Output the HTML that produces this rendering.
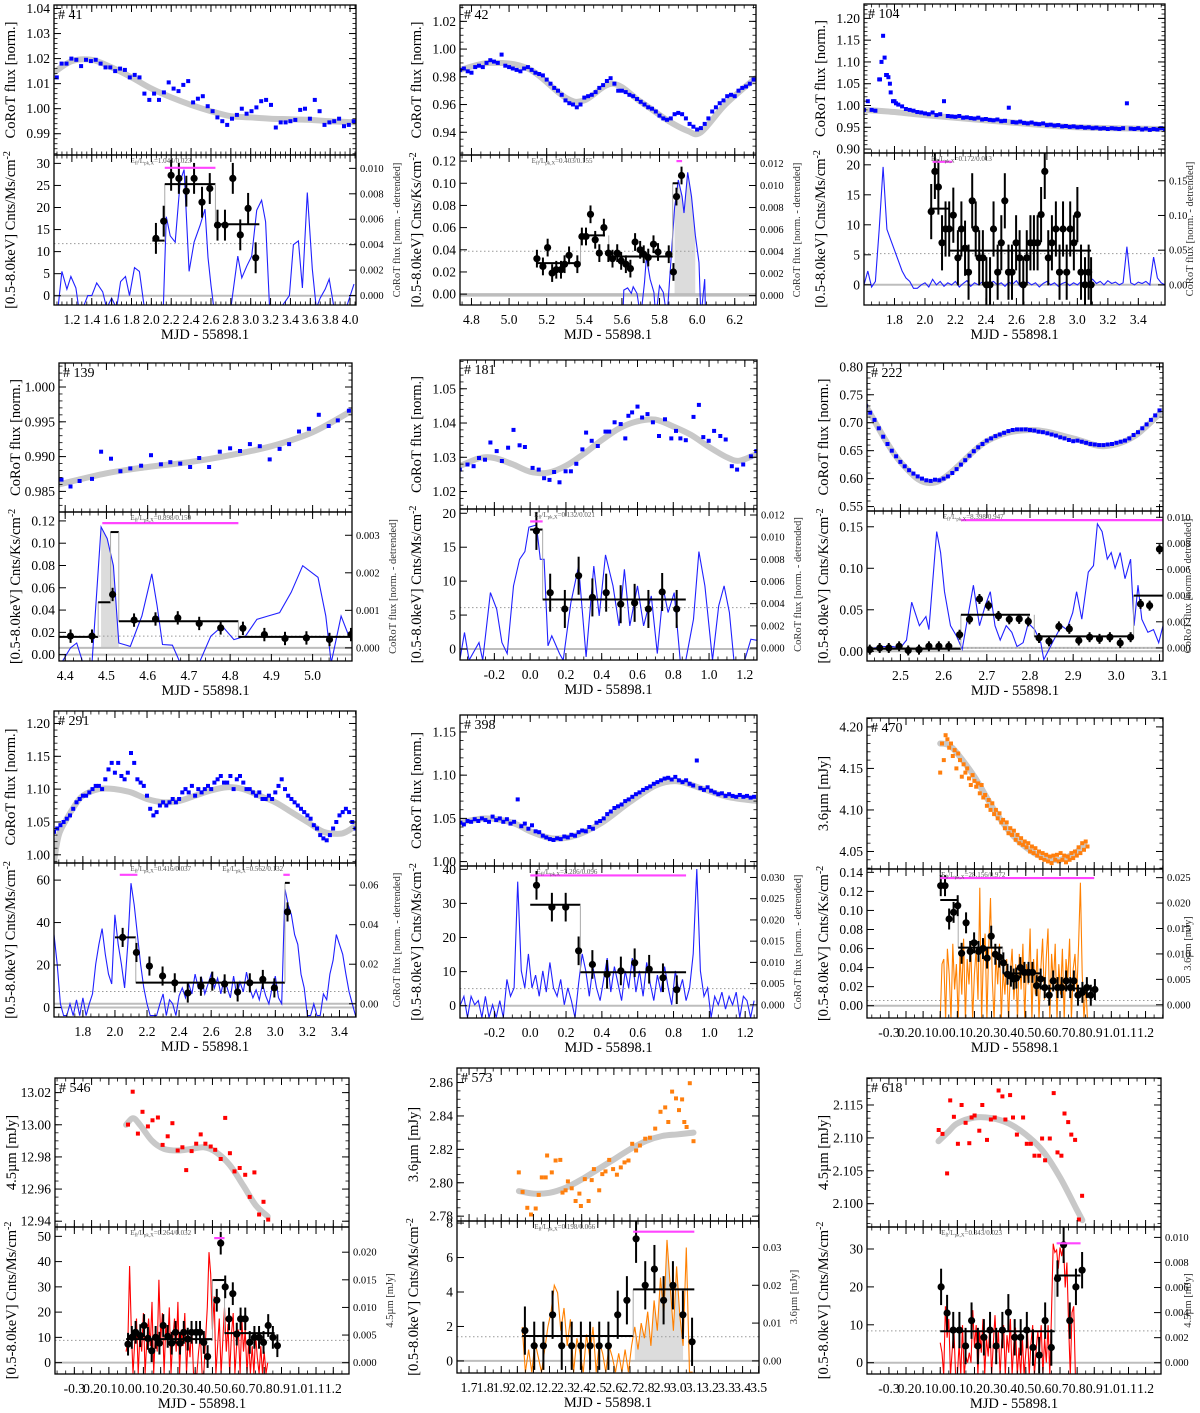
<!DOCTYPE html>
<html><head><meta charset="utf-8"><title>CoRoT / X-ray flare light curves</title>
<style>
html,body{margin:0;padding:0;background:#fff;}
svg{display:block;font-family:"Liberation Serif",serif;}
</style></head>
<body>
<svg id="fig" xmlns="http://www.w3.org/2000/svg" width="1200" height="1413" viewBox="0 0 1200 1413"></svg>
<script>
// ===== DATA =====
// #41
const d41_cy=[1.0125,1.018,1.018,1.020,1.0195,1.017,1.0195,1.019,1.0195,1.018,1.0165,1.0165,1.015,1.016,1.0155,1.0125,1.0135,1.0125,1.006,1.0035,1.006,1.0035,1.0065,1.0105,1.008,1.007,1.0095,1.011,1.0025,1.004,1.005,1.001,0.999,0.9965,0.995,0.9935,0.996,0.9975,1.0,0.998,0.999,1.0005,1.003,1.0035,1.0015,0.9925,0.9945,0.9945,0.995,0.9955,0.9995,1.0,0.996,1.0035,0.999,0.9935,0.9945,0.995,0.996,0.993,0.9935,0.995];
const d41_fx=[1.02,1.2,1.4,1.6,1.8,2.0,2.2,2.4,2.6,2.8,3.0,3.2,3.4,3.6,3.8,4.06];
const d41_fy=[1.0145,1.019,1.0195,1.0165,1.0125,1.008,1.0045,1.0015,0.999,0.997,0.9965,0.996,0.9958,0.9955,0.995,0.9945];
const d41_lx=[1.06,1.10,1.15,1.19,1.24,1.27,1.31,1.36,1.40,1.45,1.51,1.55,1.60,1.65,1.69,1.74,1.78,1.83,1.88,1.93,1.97,2.02,2.07,2.12,2.15,2.19,2.24,2.29,2.33,2.38,2.43,2.49,2.54,2.57,2.60,2.63,2.7,2.8,2.87,2.91,2.96,3.01,3.06,3.11,3.15,3.19,3.3,3.39,3.43,3.48,3.52,3.57,3.62,3.66,3.70,3.75,3.79,3.84,3.9,3.96,4.04];
const d41_ly=[-0.001,0.0019,0.0005,0.0015,0.0006,-0.001,-0.001,0,0,0.001,0.0003,-0.001,-0.0002,-0.001,0.0011,0.0015,0,0.0022,0.0019,-0.001,-0.001,-0.001,-0.001,-0.001,0.0062,0.0047,0.0042,0.009,0.0099,0.0019,0.0042,0.0055,0.0068,0.003,0.0008,-0.001,-0.001,-0.001,0.0031,0.0014,0.0023,0.0031,0.0067,0.0075,0.0058,-0.001,-0.001,0,0.004,0.0043,0.0006,0.0081,0.0021,-0.001,-0.0002,0.0005,0.0013,-0.001,-0.001,-0.001,0.0009];
const d41_xx=[2.046,2.124,2.199,2.277,2.352,2.43,2.51,2.588,2.666,2.741,2.82,2.895,2.974,3.05];
const d41_xy=[13.0,16.9,27.3,26.6,23.7,26.6,21.2,24.3,16.0,16.0,26.6,13.8,19.8,8.6];
const d41_bins=[[2.01,2.135,12.5],[2.135,2.645,25.3],[2.645,3.087,16.2]];
// #42
const d42_cy=[0.985,0.986,0.984,0.983,0.987,0.988,0.987,0.990,0.992,0.991,0.990,0.996,0.988,0.987,0.986,0.985,0.984,0.986,0.987,0.985,0.983,0.982,0.981,0.978,0.975,0.972,0.970,0.967,0.963,0.961,0.960,0.958,0.960,0.965,0.966,0.967,0.969,0.972,0.974,0.977,0.979,0.975,0.970,0.970,0.969,0.967,0.966,0.964,0.962,0.960,0.958,0.957,0.955,0.952,0.950,0.949,0.950,0.953,0.954,0.953,0.950,0.946,0.944,0.942,0.943,0.946,0.950,0.955,0.958,0.961,0.963,0.966,0.967,0.966,0.970,0.972,0.973,0.975,0.978];
const d42_fx=[4.74,4.9,5.1,5.3,5.4,5.55,5.7,5.85,5.95,6.02,6.15,6.31];
const d42_fy=[0.985,0.99,0.986,0.965,0.963,0.975,0.962,0.948,0.941,0.940,0.96,0.979];
const d42_lx=[5.605,5.61,5.63,5.65,5.66,5.68,5.70,5.72,5.73,5.75,5.77,5.78,5.80,5.82,5.84,5.86,5.88,5.90,5.92,5.93,5.95,5.97,5.99,6.01,6.02,6.04,6.045];
const d42_ly=[-0.002,0.0005,0.0007,0.0002,0.0008,0.0002,-0.002,0.0012,0.0035,0.0015,0.0003,-0.002,0.0009,0.0003,-0.002,0.003,0.008,0.0105,0.009,0.0075,0.0112,0.009,0.0055,0.003,-0.002,0.0015,-0.002];
const d42_xx=[5.148,5.18,5.205,5.229,5.251,5.276,5.295,5.319,5.363,5.387,5.409,5.433,5.458,5.48,5.504,5.528,5.55,5.575,5.596,5.621,5.645,5.67,5.697,5.716,5.74,5.768,5.792,5.849,5.874,5.89,5.917];
const d42_xy=[0.032,0.025,0.042,0.019,0.022,0.022,0.027,0.035,0.027,0.052,0.052,0.072,0.049,0.037,0.060,0.037,0.032,0.037,0.030,0.027,0.023,0.047,0.040,0.036,0.033,0.045,0.038,0.036,0.020,0.088,0.107];
const d42_bins=[[5.15,5.37,0.028],[5.38,5.51,0.053],[5.53,5.87,0.034],[5.87,5.90,0.10]];
// #104
const d104_cy=[0.990,1.010,0.990,0.988,1.060,1.160,1.070,1.030,1.010,1.002,0.998,0.992,0.990,0.988,0.985,0.984,0.982,0.980,0.984,0.978,0.980,1.010,0.976,0.975,0.974,0.976,0.972,0.973,0.971,0.970,0.972,0.968,0.969,0.967,0.966,0.968,0.964,0.965,0.995,0.962,0.961,0.963,0.960,0.959,0.961,0.958,0.957,0.959,0.955,0.956,0.954,0.955,0.952,0.953,0.951,0.952,0.950,0.951,0.949,0.950,0.948,0.949,0.947,0.948,0.946,0.948,0.947,0.946,0.948,1.005,0.947,0.946,0.948,0.945,0.947,0.944,0.946,0.945,0.948,0.946];
const d104_ex=[1.705,1.715,1.735,1.745,1.76,1.77,1.79,1.81];
const d104_ey=[1.06,1.10,1.11,1.07,1.065,1.05,1.01,1.005];
const d104_fx=[1.6,1.8,2.0,2.5,3.0,3.575];
const d104_fy=[0.99,0.985,0.978,0.963,0.95,0.946];
const d104_ly=[0.00,0.02,-0.003,0.005,0.08,0.17,0.08,0.065,0.05,0.035,0.02,0.01,0.005,-0.005,-0.005,0.0,0.003,-0.003,0.008,0.0,0.005,-0.002,0.003,0.0,0.005,-0.003,0.002,0.006,-0.002,0.003,0.0,0.004,-0.003,0.002,0.005,0.0,0.003,-0.002,0.004,0.001,0.006,-0.002,0.002,0.004,0.0,0.003,-0.003,0.002,0.005,0.0,0.003,-0.002,0.002,0.004,-0.001,0.003,0.0,0.005,-0.002,0.004,0.008,0.002,0.005,0.0,0.006,0.002,0.004,0.0,0.003,0.055,0.003,0.0,0.004,0.002,0.005,0.0,0.04,0.01,0.003,0.0];
const d104_xx=[2.041,2.065,2.088,2.112,2.135,2.159,2.186,2.216,2.239,2.263,2.286,2.31,2.333,2.356,2.38,2.403,2.427,2.45,2.477,2.501,2.524,2.548,2.571,2.598,2.621,2.645,2.668,2.692,2.715,2.739,2.762,2.786,2.809,2.833,2.859,2.883,2.906,2.93,2.953,2.977,3.0,3.024,3.05,3.074,3.09];
const d104_xy=[12.2,18.9,16.3,7.0,9.3,9.3,11.6,4.5,9.3,6.1,2.1,14.0,9.3,4.5,4.5,0,0,9.3,2.1,7.0,14.0,2.1,2.1,7.0,4.5,0,4.5,7.0,7.0,7.0,11.7,18.9,4.5,7.0,9.3,2.1,9.3,2.1,9.3,7.0,11.7,2.1,0,2.1,0];
const d104_bins=[[2.03,2.16,12.7],[2.16,3.09,5.7]];
// #139
const d139_cx=[4.391,4.413,4.435,4.465,4.487,4.511,4.534,4.558,4.584,4.608,4.632,4.655,4.679,4.703,4.725,4.749,4.775,4.8,4.824,4.848,4.872,4.896,4.92,4.943,4.967,4.991,5.015,5.039,5.061,5.088];
const d139_cy=[0.9867,0.9857,0.9865,0.9868,0.9907,0.9897,0.9879,0.9883,0.9887,0.9902,0.9889,0.9892,0.989,0.9885,0.9898,0.9885,0.9907,0.9912,0.9908,0.9918,0.9915,0.9896,0.9911,0.9918,0.9936,0.994,0.996,0.9944,0.9952,0.9966];
const d139_fx=[4.385,4.5,4.6,4.7,4.8,4.9,5.0,5.095];
const d139_fy=[0.986,0.9876,0.9885,0.9892,0.9902,0.9915,0.9935,0.9966];
const d139_lx=[4.391,4.413,4.428,4.443,4.465,4.487,4.502,4.517,4.53,4.558,4.586,4.61,4.623,4.636,4.66,4.679,4.707,4.725,4.753,4.781,4.809,4.837,4.865,4.892,4.92,4.948,4.976,5.013,5.032,5.045,5.069,5.088];
const d139_ly=[-0.0004,0,0.00013,-0.0004,-0.0004,0.00322,0.00291,0.00219,0.00013,0.00004,0.00085,0.00197,0.00112,0.00009,0.00007,-0.0004,-0.0004,-0.0004,0.00031,0.00058,0.00022,0.00031,0.00076,0.00085,0.00094,0.00148,0.00219,0.00188,0.00085,-0.0004,0.00085,0.00031];
const d139_xx=[4.413,4.465,4.515,4.567,4.619,4.673,4.725,4.777,4.831,4.883,4.933,4.985,5.041,5.093];
const d139_xy=[0.0166,0.0166,0.054,0.031,0.032,0.033,0.028,0.024,0.0236,0.018,0.0145,0.015,0.0136,0.018];
const d139_bins=[[4.385,4.48,0.016],[4.48,4.51,0.047],[4.51,4.53,0.11],[4.53,4.82,0.030],[4.82,5.095,0.016]];
// #181
const d181_cx=[-0.393,-0.35,-0.316,-0.286,-0.252,-0.222,-0.187,-0.158,-0.123,-0.093,-0.059,-0.029,0.014,0.048,0.078,0.108,0.134,0.164,0.198,0.228,0.258,0.292,0.313,0.344,0.378,0.421,0.442,0.472,0.506,0.532,0.549,0.57,0.6,0.626,0.656,0.686,0.72,0.754,0.789,0.815,0.84,0.87,0.913,0.943,0.968,0.998,1.028,1.063,1.093,1.127,1.157,1.191,1.234,1.264];
const d181_cy=[1.0264,1.0279,1.0274,1.0298,1.0293,1.0343,1.0318,1.0289,1.0328,1.038,1.0335,1.033,1.0269,1.0264,1.0239,1.0234,1.0257,1.0227,1.0259,1.0259,1.0281,1.0323,1.0372,1.0348,1.0333,1.0375,1.0375,1.0402,1.0397,1.0355,1.0421,1.0431,1.0448,1.0416,1.0426,1.0402,1.0362,1.0411,1.0355,1.0377,1.0355,1.035,1.0418,1.0453,1.0359,1.0348,1.0377,1.0362,1.0352,1.0274,1.0264,1.0279,1.0303,1.0318];
const d181_fx=[-0.39,-0.28,-0.2,-0.1,0.0,0.1,0.2,0.3,0.4,0.5,0.6,0.7,0.8,0.9,1.0,1.1,1.17,1.268];
const d181_fy=[1.0275,1.0298,1.0298,1.028,1.0258,1.0255,1.0275,1.031,1.035,1.0385,1.0405,1.041,1.039,1.0365,1.033,1.03,1.029,1.031];
const d181_lx=[-0.393,-0.367,-0.341,-0.286,-0.265,-0.222,-0.187,-0.158,-0.128,-0.093,-0.059,-0.029,-0.007,0.035,0.057,0.078,0.1,0.121,0.164,0.185,0.228,0.271,0.313,0.356,0.386,0.421,0.463,0.497,0.527,0.557,0.6,0.634,0.677,0.711,0.745,0.771,0.805,0.839,0.87,0.913,0.943,0.977,1.019,1.054,1.084,1.114,1.139,1.199,1.234,1.268];
const d181_ly=[-0.0011,0.0014,-0.0011,0.0005,-0.0011,0.005,0.0035,0.0005,-0.0005,0.0056,0.008,0.0087,0.0109,0.0111,0.008,0.008,0.0002,0.0011,-0.0005,-0.0011,0.0041,0.0074,-0.0008,0.0074,0.0029,0.0084,0.0056,0.002,0.0071,0.002,0.0056,0.002,0.0047,-0.0005,0.0053,0.0032,0.005,-0.0011,-0.0011,0.0026,0.0087,0.0056,-0.0011,0.0038,0.0056,0.0032,-0.0011,-0.0011,0.0008,0.0007];
const d181_xx=[0.035,0.112,0.194,0.271,0.348,0.425,0.506,0.584,0.661,0.738,0.819];
const d181_xy=[17.4,8.3,5.9,10.8,7.6,8.3,6.6,6.8,5.9,8.4,5.9];
const d181_bins=[[0.0,0.07,17.6],[0.07,0.87,7.3]];
// #222
const d222_cy=[0.730,0.718,0.705,0.690,0.675,0.662,0.650,0.640,0.630,0.622,0.615,0.609,0.604,0.600,0.597,0.596,0.598,0.597,0.600,0.604,0.610,0.617,0.625,0.633,0.641,0.649,0.656,0.662,0.668,0.672,0.676,0.679,0.682,0.685,0.687,0.688,0.688,0.688,0.687,0.686,0.684,0.683,0.681,0.679,0.677,0.674,0.672,0.669,0.667,0.668,0.666,0.664,0.662,0.661,0.660,0.660,0.661,0.662,0.664,0.666,0.668,0.672,0.678,0.683,0.690,0.697,0.705,0.713,0.722];
const d222_fx=[2.42,2.5,2.58,2.7,2.8,2.9,2.97,3.04,3.108];
const d222_fy=[0.73,0.63,0.593,0.667,0.687,0.672,0.658,0.675,0.722];
const d222_lx=[2.429,2.455,2.482,2.5,2.514,2.526,2.544,2.559,2.566,2.584,2.593,2.602,2.616,2.63,2.643,2.655,2.669,2.683,2.696,2.708,2.719,2.731,2.745,2.758,2.77,2.784,2.796,2.811,2.825,2.832,2.855,2.873,2.885,2.899,2.908,2.92,2.935,2.947,2.956,2.967,2.979,2.988,2.997,3.009,3.02,3.033,3.041,3.05,3.059,3.073,3.086,3.098,3.108];
const d222_ly=[-0.0001,0.0001,0.0001,0,0.0006,0.0035,0.0017,0.0024,0.0014,0.0089,0.0073,0.0043,0.0017,0.0009,-0.0001,0.0022,0.0048,0.0017,0.0032,0.0043,0.0017,0.0006,0.0017,0.0012,0.0001,0.0004,0.0019,0.0014,0.0004,-0.0009,0.0006,0.0017,0.0014,0.0027,0.0043,0.0022,0.0058,0.0063,0.0095,0.0089,0.0068,0.0073,0.0061,0.0073,0.0053,0.0068,0.0017,0.0048,0.0022,0.0012,0.0014,0.0004,0.0017];
const d222_xx=[2.429,2.452,2.473,2.497,2.518,2.543,2.566,2.589,2.612,2.637,2.66,2.683,2.704,2.727,2.752,2.775,2.796,2.821,2.844,2.867,2.891,2.913,2.938,2.961,2.985,3.009,3.033,3.056,3.077,3.1];
const d222_xy=[0.002,0.004,0.004,0.006,0.001,0.002,0.006,0.006,0.006,0.02,0.0385,0.063,0.055,0.0426,0.0385,0.039,0.036,0.016,0.012,0.03,0.027,0.013,0.017,0.015,0.017,0.01,0.017,0.057,0.055,0.123];
const d222_bins=[[2.42,2.64,0.003],[2.64,2.80,0.044],[2.81,3.03,0.018],[3.04,3.108,0.067]];
// #291
const d291_cy=[1.035,1.04,1.045,1.05,1.055,1.06,1.07,1.08,1.085,1.09,1.09,1.095,1.10,1.105,1.105,1.10,1.115,1.13,1.14,1.125,1.14,1.12,1.115,1.125,1.155,1.14,1.115,1.11,1.105,1.09,1.07,1.06,1.065,1.075,1.08,1.075,1.08,1.085,1.08,1.085,1.095,1.10,1.095,1.105,1.09,1.10,1.095,1.10,1.105,1.10,1.11,1.115,1.12,1.11,1.11,1.12,1.10,1.115,1.12,1.11,1.10,1.10,1.095,1.09,1.095,1.085,1.085,1.09,1.085,1.095,1.105,1.115,1.10,1.09,1.085,1.08,1.075,1.07,1.065,1.06,1.055,1.045,1.04,1.03,1.025,1.022,1.03,1.04,1.05,1.06,1.065,1.07,1.065,1.05,1.04];
const d291_fx=[1.62,1.65,1.7,1.75,1.8,1.9,2.0,2.1,2.2,2.3,2.4,2.5,2.6,2.7,2.8,2.9,3.0,3.1,3.2,3.3,3.4,3.45,3.503];
const d291_fy=[0.99,1.03,1.055,1.075,1.09,1.10,1.10,1.095,1.085,1.08,1.082,1.09,1.098,1.103,1.10,1.09,1.08,1.065,1.05,1.035,1.032,1.036,1.045];
const d291_ly=[0.035,0.02,0.0,-0.006,-0.006,0.0,-0.006,0.002,-0.006,0.003,-0.006,0.0,0.005,0.02,0.03,0.038,0.025,0.015,0.01,0.045,0.03,0.02,0.008,0.03,0.061,0.05,0.035,0.02,0.008,0.0,-0.006,-0.006,-0.006,0.0,0.005,-0.006,0.002,0.0,-0.006,0.004,0.008,0.003,0.01,0.005,0.015,0.008,0.013,0.005,0.01,0.015,0.008,0.013,0.005,0.012,0.008,0.003,0.014,0.004,0.011,0.006,0.016,0.008,0.003,0.007,0.002,0.01,0.004,0.0,0.008,0.014,0.003,0.0,0.058,0.05,0.045,0.035,0.03,0.015,0.008,-0.006,-0.006,0.0,-0.006,-0.006,0.005,0.002,0.015,0.022,0.035,0.03,0.025,0.015,0.006,0.0,-0.006];
const d291_xx=[2.048,2.134,2.215,2.297,2.373,2.454,2.536,2.607,2.684,2.765,2.841,2.922,2.994,3.076];
const d291_xy=[33,25.9,19.5,14.8,11.6,6.8,10,12.4,11.1,7.3,11.6,13.2,9.2,45];
const d291_bins=[[2.0,2.13,33],[2.13,3.06,11.7],[3.06,3.09,58.7]];
// #398
const d398_cy=[1.045,1.043,1.047,1.046,1.049,1.047,1.050,1.048,1.046,1.052,1.048,1.050,1.046,1.049,1.044,1.046,1.072,1.041,1.044,1.038,1.042,1.035,1.034,1.030,1.028,1.026,1.025,1.027,1.026,1.029,1.028,1.031,1.030,1.034,1.036,1.035,1.040,1.038,1.045,1.047,1.050,1.055,1.058,1.062,1.064,1.066,1.070,1.072,1.075,1.078,1.080,1.083,1.085,1.087,1.090,1.092,1.094,1.096,1.097,1.095,1.098,1.094,1.092,1.094,1.090,1.088,1.117,1.085,1.083,1.086,1.082,1.080,1.078,1.079,1.076,1.078,1.076,1.075,1.077,1.075,1.076,1.074,1.075];
const d398_fx=[-0.39,-0.25,-0.1,0.0,0.12,0.25,0.4,0.55,0.7,0.82,0.95,1.1,1.266];
const d398_fy=[1.045,1.05,1.045,1.035,1.027,1.03,1.045,1.068,1.088,1.093,1.085,1.075,1.07];
const d398_ly=[0.0,0.002,-0.003,0.002,0.0,0.001,-0.003,0.002,-0.003,0.0,-0.003,0.001,-0.003,0.006,0.002,0.004,0.029,0.008,0.004,0.012,0.004,0.007,0.002,0.008,0.003,0.010,0.004,0.002,0.006,0.0,0.004,0.001,-0.003,0.005,0.012,0.008,0.002,0.009,0.004,0.001,0.006,0.011,0.003,0.009,0.005,0.001,0.008,0.004,0.011,0.003,0.008,0.002,0.010,0.005,0.001,0.007,0.003,0.009,0.004,0.0,0.008,0.003,0.006,0.001,0.004,0.012,0.032,0.008,0.002,0.004,-0.003,0.002,0.0,0.003,-0.001,0.002,0.0,0.003,-0.003,0.002,0.001,-0.003,0.001];
const d398_xx=[0.035,0.121,0.198,0.27,0.347,0.429,0.506,0.583,0.664,0.741,0.818];
const d398_xy=[35.3,28.9,28.9,16.1,12.1,9.2,10.2,12.6,10.7,8.2,4.7];
const d398_bins=[[0.0,0.28,29.6],[0.28,0.87,9.8]];
// #470
const d470_cy=[4.145,4.180,4.160,4.190,4.185,4.175,4.180,4.165,4.172,4.150,4.168,4.160,4.140,4.155,4.145,4.150,4.138,4.130,4.142,4.135,4.128,4.132,4.120,4.130,4.115,4.118,4.105,4.112,4.100,4.108,4.095,4.100,4.090,4.096,4.085,4.088,4.078,4.085,4.072,4.078,4.070,4.075,4.064,4.070,4.060,4.066,4.058,4.062,4.055,4.060,4.050,4.056,4.048,4.054,4.045,4.050,4.042,4.048,4.040,4.046,4.038,4.044,4.036,4.045,4.040,4.046,4.038,4.048,4.040,4.045,4.037,4.044,4.040,4.048,4.042,4.050,4.045,4.055,4.048,4.060,4.052,4.062,4.056];
const d470_fx=[0.0,0.05,0.1,0.2,0.3,0.4,0.5,0.6,0.7,0.8,0.84];
const d470_fy=[4.18,4.178,4.168,4.14,4.105,4.075,4.055,4.043,4.04,4.05,4.058];
const d470_ly=[-0.003,0.008,0.009,-0.003,0.011,0.006,-0.003,0.012,0.003,0.008,-0.003,0.010,0.002,0.013,-0.003,0.009,0.004,0.012,-0.003,0.006,0.011,0.001,0.023,-0.003,0.009,0.014,-0.003,0.011,0.021,0.005,-0.003,0.010,0.004,0.012,-0.003,0.007,0.002,0.009,-0.003,0.006,0.011,0.001,0.008,-0.003,0.010,0.003,0.012,-0.003,0.008,0.004,0.015,-0.003,0.009,0.002,0.011,-0.003,0.007,0.013,0.001,0.009,0.015,-0.003,0.010,0.004,0.012,-0.003,0.008,0.002,0.011,-0.003,0.009,0.005,0.013,-0.003,0.007,0.010,0.002,0.012,0.024,0.006,-0.003,0.004,-0.003];
const d470_xx=[0.003,0.028,0.052,0.078,0.102,0.125,0.151,0.175,0.198,0.224,0.25,0.274,0.298,0.322,0.345,0.369,0.393,0.413,0.429,0.445,0.468,0.492,0.516,0.539,0.563,0.587,0.611,0.637,0.66,0.686,0.71,0.736,0.76,0.781,0.805,0.831,0.857,0.88,0.904];
const d470_xy=[0.126,0.126,0.091,0.098,0.105,0.055,0.087,0.057,0.066,0.057,0.060,0.050,0.073,0.054,0.051,0.045,0.033,0.031,0.028,0.029,0.040,0.035,0.035,0.035,0.021,0.028,0.019,0.011,0.026,0.019,0.019,0.026,0.019,0.026,0.011,0.014,0.019,0.011,0.017];
const d470_bins=[[0.0,0.105,0.111],[0.105,0.365,0.061],[0.365,0.587,0.034],[0.587,0.904,0.018]];
// #546
const d546_cx=[0.011,0.038,0.068,0.095,0.126,0.153,0.184,0.211,0.241,0.268,0.299,0.326,0.348,0.379,0.406,0.432,0.459,0.49,0.516,0.548,0.574,0.601,0.628,0.658,0.69,0.716,0.743,0.77,0.796,0.823];
const d546_cy=[13.0001,13.0206,12.9945,13.0081,12.999,13.0028,13.0045,12.9875,12.9928,13.001,12.984,12.986,12.9718,12.9836,12.9882,12.994,12.9882,12.9865,12.9844,12.9787,13.0043,12.9823,12.971,12.9731,12.9689,12.9551,12.9704,12.9442,12.9521,12.941];
const d546_fx=[0.0,0.04,0.08,0.15,0.22,0.3,0.38,0.45,0.52,0.6,0.68,0.75,0.82];
const d546_fy=[13.0,13.004,13.0,12.99,12.985,12.984,12.985,12.986,12.983,12.975,12.962,12.95,12.943];
const d546_ly=[0.002,0.004,0.0175,0.006,-0.002,0.004,0.008,-0.002,0.005,0.002,0.009,-0.002,0.004,0.008,0.003,0.011,-0.002,0.006,0.002,0.015,0.004,0.009,-0.002,0.007,0.003,0.010,-0.002,0.004,0.008,0.002,0.011,-0.002,0.006,0.003,0.009,-0.002,0.005,0.001,0.007,-0.002,-0.002,-0.002,0.002,0.005,-0.002,-0.002,0.004,0.010,0.020,0.016,0.006,0.012,-0.002,0.003,0.008,-0.002,0.004,0.010,0.002,0.007,-0.002,0.005,0.009,-0.002,0.003,0.006,-0.002,0.008,0.002,0.006,-0.002,0.004,-0.002,0.003,-0.002,0.005,0.001,-0.002,0.003,-0.002,0.002,-0.002,0.0];
const d546_xx=[0.011,0.033,0.055,0.082,0.104,0.126,0.148,0.171,0.193,0.215,0.241,0.264,0.286,0.312,0.334,0.357,0.379,0.406,0.428,0.45,0.472,0.525,0.548,0.574,0.596,0.618,0.641,0.663,0.69,0.716,0.743,0.77,0.796,0.823,0.85,0.876];
const d546_xy=[7.3,10,12,10.7,14.7,9.6,4.7,10,7.7,14.7,10.4,7.7,12,7.7,12,9.3,12,12,12,8,2.4,24.7,47.3,30,17.3,27.3,11.3,17.3,17.3,8,10,10,8,14.7,10,6.7];
const d546_bins=[[0.0,0.5,9.3],[0.5,0.57,32.7],[0.57,0.86,11.7]];
// #573
const d573_cx=[2.009,2.033,2.062,2.085,2.114,2.133,2.152,2.176,2.185,2.214,2.238,2.267,2.281,2.3,2.314,2.338,2.362,2.386,2.395,2.419,2.443,2.462,2.476,2.509,2.528,2.548,2.571,2.595,2.619,2.643,2.666,2.691,2.714,2.738,2.762,2.795,2.824,2.857,2.89,2.919,2.938,2.962,2.986,3.005,3.024,3.038,3.052,3.072,3.095];
const d573_cy=[2.8062,2.7945,2.785,2.781,2.7846,2.7927,2.8032,2.8032,2.8163,2.8062,2.8133,2.8137,2.7941,2.7955,2.8008,2.7967,2.7891,2.7935,2.7861,2.8022,2.7891,2.8016,2.8082,2.7955,2.8052,2.8068,2.8137,2.8082,2.8048,2.8092,2.8122,2.8133,2.8233,2.8193,2.8223,2.8264,2.827,2.8324,2.8425,2.8451,2.8364,2.8546,2.8505,2.8435,2.8499,2.8364,2.8334,2.8596,2.8249];
const d573_fx=[2.01,2.1,2.2,2.3,2.4,2.5,2.6,2.7,2.8,2.9,3.0,3.095];
const d573_fy=[2.795,2.7935,2.794,2.797,2.802,2.808,2.814,2.82,2.825,2.828,2.829,2.83];
const d573_ly=[0.009,-0.003,0.003,-0.003,0.005,0.001,-0.003,0.003,0.009,0.013,0.020,0.018,0.008,0.014,0.004,0.011,-0.003,0.006,0.002,-0.003,0.007,0.001,0.009,-0.003,0.005,0.002,-0.003,0.004,0.001,-0.003,0.002,-0.003,0.003,-0.003,0.004,0.009,0.003,0.010,0.006,0.013,0.004,0.016,0.008,0.022,0.012,0.032,0.020,0.008,0.025,0.012,0.004,0.030,-0.003,-0.003];
const d573_xx=[2.047,2.105,2.162,2.219,2.276,2.338,2.395,2.452,2.509,2.566,2.624,2.681,2.738,2.795,2.852,2.909,2.967,3.029,3.086];
const d573_xy=[1.76,0.88,0.88,2.68,0.88,0.88,0.88,0.88,0.88,0.88,2.68,3.52,7.09,4.39,5.33,3.52,4.39,2.68,1.11];
const d573_bins=[[2.03,2.72,1.45],[2.72,3.1,4.15]];
// #618
const d618_cx=[-0.009,0.013,0.04,0.058,0.08,0.103,0.125,0.148,0.17,0.183,0.201,0.228,0.246,0.273,0.296,0.318,0.341,0.363,0.381,0.408,0.425,0.448,0.484,0.506,0.529,0.551,0.578,0.595,0.613,0.64,0.663,0.685,0.708,0.726,0.748,0.766,0.788,0.81,0.829];
const d618_cy=[2.1112,2.1106,2.1046,2.1157,2.1132,2.1091,2.115,2.1123,2.1092,2.1131,2.1134,2.1111,2.115,2.1097,2.1128,2.1131,2.1172,2.1163,2.1128,2.1165,2.1131,2.1105,2.1131,2.1091,2.1091,2.1073,2.1073,2.1099,2.1066,2.1099,2.1168,2.1078,2.1073,2.1137,2.1124,2.1105,2.1097,2.0976,2.1012];
const d618_fx=[-0.01,0.05,0.1,0.2,0.3,0.4,0.5,0.6,0.7,0.8,0.83];
const d618_fy=[2.1095,2.111,2.1122,2.1131,2.113,2.1122,2.1105,2.108,2.104,2.099,2.0975];
const d618_ly=[0.0016,0.0008,-0.001,0.0045,0.0020,0.0035,-0.001,0.0010,0.0027,-0.001,-0.001,0.0015,-0.001,0.0030,-0.001,0.0005,0.0,0.0008,0.0,0.0042,0.0012,0.0030,-0.001,0.0025,0.0008,0.0035,-0.001,0.0020,0.0005,0.0032,-0.001,0.0015,0.0038,0.0008,0.0025,-0.001,0.0018,0.0030,-0.001,0.0022,0.0008,0.0035,-0.001,0.0015,0.0028,-0.001,0.0012,-0.001,0.0020,-0.001,0.0008,0.0025,-0.001,0.0015,0.0030,-0.001,0.0010,0.0025,0.001,0.003,-0.001,0.002,0.0,0.003,-0.001,0.004,0.0095,0.0088,0.009,0.0075,0.0092,0.0085,0.0095,0.006,0.008,0.003,-0.001,0.004,0.0045,-0.001,-0.001,-0.001,-0.001];
const d618_xx=[0.005,0.04,0.076,0.112,0.148,0.183,0.22,0.255,0.291,0.327,0.363,0.398,0.435,0.47,0.506,0.542,0.578,0.613,0.649,0.685,0.721,0.757,0.793,0.829];
const d618_xy=[20,13.1,8.6,8.6,4.4,11.1,4.4,6.7,8.6,4.4,8.6,13.3,6.7,6.7,8.6,4,2,11.1,4,22.2,31.1,11.1,20,24.4];
const d618_bins=[[0.0,0.67,8.3],[0.67,0.82,23]];

// tick values
const tk_x41=[1.2,1.4,1.6,1.8,2.0,2.2,2.4,2.6,2.8,3.0,3.2,3.4,3.6,3.8,4.0];
const tk_x42=[4.8,5.0,5.2,5.4,5.6,5.8,6.0,6.2];
const tk_x104=[1.8,2.0,2.2,2.4,2.6,2.8,3.0,3.2,3.4];
const tk_x139=[4.4,4.5,4.6,4.7,4.8,4.9,5.0];
const tk_xm=[-0.2,0.0,0.2,0.4,0.6,0.8,1.0,1.2];
const tk_x222=[2.5,2.6,2.7,2.8,2.9,3.0,3.1];
const tk_x291=[1.8,2.0,2.2,2.4,2.6,2.8,3.0,3.2,3.4];
const tk_xs=[-0.3,-0.2,-0.1,0.0,0.1,0.2,0.3,0.4,0.5,0.6,0.7,0.8,0.9,1.0,1.1,1.2];
const lb_xs=["-0.3","0.2","0.1","0.0","0.1","0.2","0.3","0.4","0.5","0.6","0.7","0.8","0.9","1.0","1.1","1.2"];
const tk_x573=[1.7,1.8,1.9,2.0,2.1,2.2,2.3,2.4,2.5,2.6,2.7,2.8,2.9,3.0,3.1,3.2,3.3,3.4,3.5];

// ===== DRAWING =====
const NS='http://www.w3.org/2000/svg';
const svg=document.getElementById('fig');
function mk(tag,parent){const e=document.createElementNS(NS,tag);(parent||svg).appendChild(e);return e;}
function set(e,o){for(const k in o)e.setAttribute(k,o[k]);return e;}
function lin(d0,d1,r0,r1){return v=>r0+(v-d0)*(r1-r0)/(d1-d0);}
function smooth(p){let d='M'+p[0][0].toFixed(1)+','+p[0][1].toFixed(1);for(let i=0;i<p.length-1;i++){const a=p[i-1]||p[i],b=p[i],c=p[i+1],e=p[i+2]||c;d+=' C'+(b[0]+(c[0]-a[0])/6).toFixed(1)+','+(b[1]+(c[1]-a[1])/6).toFixed(1)+' '+(c[0]-(e[0]-b[0])/6).toFixed(1)+','+(c[1]-(e[1]-b[1])/6).toFixed(1)+' '+c[0].toFixed(1)+','+c[1].toFixed(1);}return d;}
function seqX(arr,t0,dt){return arr.map((v,i)=>t0+i*dt);}
function fmt(v,d){return v.toFixed(d);}
let clipN=0;
const defs=mk('defs');
function clip(x,y,w,h){const id='c'+(clipN++);const cp=mk('clipPath',defs);cp.setAttribute('id',id);set(mk('rect',cp),{x:x,y:y,width:w,height:h});return 'url(#'+id+')';}

function ticksY(g,c,S,vals,side,minor,lo,hi,top,bot){
  const L=c.L,R=c.R;
  vals.forEach(v=>{const y=S(v);if(y<top-0.5||y>bot+0.5)return;
    set(mk('line',g),{x1:L,x2:L+7,y1:y,y2:y,stroke:'#000','stroke-width':1});
    if(side==='both')set(mk('line',g),{x1:R,x2:R-7,y1:y,y2:y,stroke:'#000','stroke-width':1});});
  if(minor){const st=minor;let v=Math.ceil(lo/st)*st;for(;v<=hi;v+=st){const y=S(v);if(y<top||y>bot)continue;
    set(mk('line',g),{x1:L,x2:L+3.5,y1:y,y2:y,stroke:'#000','stroke-width':0.8});
    set(mk('line',g),{x1:R,x2:R-3.5,y1:y,y2:y,stroke:'#000','stroke-width':0.8});}}
}
function ticksX(g,c,X,y1,y2){
  c.xt.forEach(v=>{const x=X(v);if(x<c.L-0.5||x>c.R+0.5)return;
    set(mk('line',g),{x1:x,x2:x,y1:y1,y2:y1-7,stroke:'#000','stroke-width':1});
    set(mk('line',g),{x1:x,x2:x,y1:y2,y2:y2+7,stroke:'#000','stroke-width':1});});
  const st=c.xminor;let v=Math.ceil(c.x[0]/st)*st;
  for(;v<=c.x[1];v+=st){const x=X(v);
    set(mk('line',g),{x1:x,x2:x,y1:y1,y2:y1-3.5,stroke:'#000','stroke-width':0.8});
    set(mk('line',g),{x1:x,x2:x,y1:y2,y2:y2+3.5,stroke:'#000','stroke-width':0.8});}
}

function drawPanel(c){
  const g=mk('g');
  
  
  const X=lin(c.x[0],c.x[1],c.L,c.R);
  const TY=lin(c.ty[0],c.ty[1],c.M,c.T);
  const BY=lin(c.by[0],c.by[1],c.B,c.M);
  const RY=lin(c.ry[0],c.ry[1],c.B,c.M);
  const W=c.R-c.L;
  const gt=mk('g',g);
  
  
  gt.setAttribute('clip-path',clip(c.L,c.T,W,c.M-c.T));
  const fp=c.fx.map((v,i)=>[X(v),TY(c.fy[i])]);
  const fit=set(mk('path',gt),{d:smooth(fp),fill:'none',stroke:'#c8c8c8','stroke-width':6,'stroke-linecap':'round'});
  
  
  const ms=c.ms||4;
  c.cx.forEach((xv,i)=>{const r=set(mk('rect',gt),{x:(X(xv)-ms/2).toFixed(1),y:(TY(c.cy[i])-ms/2).toFixed(1),width:ms,height:ms,fill:c.col});
    
    });
  const gb=mk('g',g);
  
  
  gb.setAttribute('clip-path',clip(c.L,c.M,W,c.B-c.M));
  if(c.fill){const pts=[];c.lx.forEach((xv,i)=>{if(xv>=c.fill[0]&&xv<=c.fill[1])pts.push([X(xv),RY(Math.max(0,c.ly[i]))]);});
    if(pts.length){const d='M'+pts[0][0]+','+RY(0)+' '+pts.map(p=>'L'+p[0].toFixed(1)+','+p[1].toFixed(1)).join(' ')+' L'+pts[pts.length-1][0]+','+RY(0)+'Z';
      const f=set(mk('path',gb),{d:d,fill:'#dcdcdc',stroke:'none'});
      
      }}
  const z=set(mk('line',gb),{x1:c.L,x2:c.R,y1:BY(0),y2:BY(0),stroke:'#bdbdbd','stroke-width':2});
  
  
  if(Math.abs(RY(0)-BY(0))>1.5){set(mk('line',gb),{x1:c.L,x2:c.R,y1:RY(0),y2:RY(0),stroke:'#bdbdbd','stroke-width':2});}
  const dl=set(mk('line',gb),{x1:c.L,x2:c.R,y1:BY(c.dot),y2:BY(c.dot),stroke:'#999','stroke-width':1,'stroke-dasharray':'1.5,2.5'});
  
  
  const lc=set(mk('polyline',gb),{points:c.lx.map((xv,i)=>X(xv).toFixed(1)+','+RY(c.ly[i]).toFixed(1)).join(' '),fill:'none',stroke:c.lcol,'stroke-width':1.1});
  
  
  c.bins.forEach((b,i)=>{
    if(i>0){const p=c.bins[i-1];set(mk('line',gb),{x1:X(b[0]),x2:X(b[0]),y1:BY(p[2]),y2:BY(b[2]),stroke:'#aaa','stroke-width':1});}
    const h=set(mk('line',gb),{x1:X(b[0]),x2:X(b[1]),y1:BY(b[2]),y2:BY(b[2]),stroke:'#000','stroke-width':2});
    
    
  });
  c.xx.forEach((xv,i)=>{const x=X(xv),y=BY(c.xy[i]);
    set(mk('line',gb),{x1:x,x2:x,y1:BY(c.xy[i]-c.err),y2:BY(c.xy[i]+c.err),stroke:'#000','stroke-width':2});
    const p=set(mk('circle',gb),{cx:x.toFixed(1),cy:y.toFixed(1),r:3.6,fill:'#000'});
    
    });
  c.mag.forEach(m=>{const l=set(mk('line',gb),{x1:X(m[0]),x2:X(m[1]),y1:BY(m[2]),y2:BY(m[2]),stroke:'#ff44ff','stroke-width':2.2});
    
    });
  c.ann.forEach(a=>{const t=set(mk('text',g),{x:X(a[0]),y:c.M+8,'font-size':7,fill:'#555'});
    
    
    t.appendChild(document.createTextNode('E'));
    const s1=set(mk('tspan',t),{'font-size':5,dy:1.5});s1.textContent='fl';
    const s2=set(mk('tspan',t),{dy:-1.5});s2.textContent='/L';
    const s3=set(mk('tspan',t),{'font-size':5,dy:1.5});s3.textContent='pk,X';
    const s4=set(mk('tspan',t),{dy:-1.5});s4.textContent='='+a[1];});
  const ga=mk('g',g);
  
  
  set(mk('rect',ga),{x:c.L,y:c.T,width:W,height:c.B-c.T,fill:'none',stroke:'#000','stroke-width':1.3});
  set(mk('line',ga),{x1:c.L,x2:c.R,y1:c.M,y2:c.M,stroke:'#000','stroke-width':1.6});
  ticksX(ga,c,X,c.M,c.T);
  ticksX(ga,c,X,c.B,c.M);
  ticksY(ga,c,TY,c.tt,'both',c.tmin,c.ty[0],c.ty[1],c.T,c.M);
  ticksY(ga,c,BY,c.bt,'left-only',0,c.by[0],c.by[1],c.M,c.B);
  c.rt.forEach(v=>{const y=RY(v);set(mk('line',ga),{x1:c.R,x2:c.R-7,y1:y,y2:y,stroke:'#000','stroke-width':1});});
  const tf={'font-size':13.5,fill:'#000'};
  c.tt.forEach((v,i)=>{const y=TY(v);if(y<c.T-2||y>c.M+2)return;const t=set(mk('text',ga),Object.assign({x:c.L-4,y:y+4.5,'text-anchor':'end'},tf));t.textContent=c.tl[i];});
  c.bt.forEach((v,i)=>{const y=BY(v);if(y<c.M-6||y>c.B+2)return;const t=set(mk('text',ga),Object.assign({x:c.L-4,y:y+4.5,'text-anchor':'end'},tf));t.textContent=c.bl[i];});
  c.rt.forEach((v,i)=>{const y=RY(v);const t=set(mk('text',ga),{x:c.R+4,y:y+3.5,'font-size':10.5,fill:'#000'});t.textContent=c.rl[i];});
  c.xt.forEach((v,i)=>{const x=X(v);if(x<c.L-1||x>c.R+1)return;const t=set(mk('text',ga),Object.assign({x:x,y:c.B+19,'text-anchor':'middle'},tf));t.textContent=c.xl?c.xl[i]:fmt(v,1);});
  const xt=set(mk('text',ga),{x:(c.L+c.R)/2,y:c.B+34,'text-anchor':'middle','font-size':14.5});
  
  
  xt.textContent='MJD - 55898.1';
  const ty=set(mk('text',ga),{x:0,y:0,'text-anchor':'middle','font-size':14.5,transform:'translate('+(c.L-39)+','+((c.T+c.M)/2)+') rotate(-90)'});
  
  
  ty.textContent=c.ttl;
  const by=set(mk('text',ga),{x:0,y:0,'text-anchor':'middle','font-size':14.5,transform:'translate('+(c.L-39)+','+((c.M+c.B)/2)+') rotate(-90)'});
  
  
  by.appendChild(document.createTextNode('[0.5-8.0keV] Cnts/'+c.unit+'/cm'));
  const sp=set(mk('tspan',by),{'font-size':10,dy:-5});sp.textContent='-2';
  const ry=set(mk('text',ga),{x:0,y:0,'text-anchor':'middle','font-size':10.5,fill:'#333',transform:'translate('+(c.R+c.rpad)+','+((c.M+c.B)/2)+') rotate(-90)'});
  
  
  ry.textContent=c.rtl;
  const lab=set(mk('text',ga),{x:c.L+4,y:c.T+14,'font-size':14});
  
  
  lab.textContent='# '+c.id;
}
function rng(a,b,s){const o=[];for(let v=a;v<=b+s/1000;v+=s)o.push(+v.toFixed(6));return o;}
function labs(arr,d){return arr.map(v=>v.toFixed(d));}
const CR='CoRoT flux [norm.]', CRR='CoRoT flux [norm. - detrended]';

const panels=[
 {id:'41',L:54,R:356,T:5,M:155,B:305,x:[1.02,4.06],xt:tk_x41,xminor:0.05,ty:[0.9815,1.0414],tt:rng(0.99,1.04,0.01),tmin:0.002,by:[-2.1,31.9],bt:rng(0,30,5),ry:[-0.00074,0.01105],rt:rng(0,0.010,0.002),
  cx:seqX(d41_cy,1.048,0.049),cy:d41_cy,fx:d41_fx,fy:d41_fy,lx:d41_lx,ly:d41_ly,xx:d41_xx,xy:d41_xy,err:3.5,bins:d41_bins,mag:[[2.135,2.645,29.0]],dot:11.8,ann:[[1.79,'1.044/0.023']],col:'#0000ff',lcol:'#2020ff',unit:'Ms',ttl:CR,rtl:CRR,rpad:44,ri:3,bi:0,ti:2},
 {id:'42',L:460,R:756,T:5,M:155,B:305,x:[4.739,6.313],xt:tk_x42,xminor:0.05,ty:[0.9236,1.0318],tt:rng(0.94,1.02,0.02),tmin:0.005,by:[-0.0098,0.1255],bt:rng(0,0.12,0.02),ry:[-0.00085,0.01277],rt:rng(0,0.012,0.002),
  cx:seqX(d42_cy,4.74,0.02),cy:d42_cy,fx:d42_fx,fy:d42_fy,lx:d42_lx,ly:d42_ly,xx:d42_xx,xy:d42_xy,err:0.008,bins:d42_bins,mag:[[5.89,5.92,0.12]],dot:0.0387,ann:[[5.12,'0.403/0.155']],fill:[5.87,6.0],col:'#0000ff',lcol:'#2020ff',unit:'Ks',ttl:CR,rtl:CRR,rpad:44,ri:3,bi:2,ti:2},
 {id:'104',L:864,R:1165,T:4,M:153,B:305,x:[1.60,3.575],xt:tk_x104,xminor:0.05,ty:[0.891,1.233],tt:rng(0.90,1.20,0.05),tmin:0.01,by:[-3.37,21.97],bt:rng(0,20,5),ry:[-0.029,0.19],rt:rng(0,0.15,0.05),
  cx:seqX(d104_cy,1.60,0.025).concat(d104_ex),cy:d104_cy.concat(d104_ey),fx:d104_fx,fy:d104_fy,lx:seqX(d104_ly,1.60,0.025),ly:d104_ly,xx:d104_xx,xy:d104_xy,err:4.6,bins:d104_bins,mag:[[2.05,2.18,20.5]],dot:5.2,ann:[[2.04,'0.172/0.013']],col:'#0000ff',lcol:'#2020ff',unit:'Ms',ttl:CR,rtl:CRR,rpad:28,ri:2,bi:0,ti:2},
 {id:'139',L:59,R:352,T:363,M:512,B:661,x:[4.385,5.0955],xt:tk_x139,xminor:0.02,ty:[0.98204,1.00345],tt:rng(0.985,1.000,0.005),tmin:0.001,by:[-0.0057,0.128],bt:rng(0,0.12,0.02),ry:[-0.00035,0.00362],rt:rng(0,0.003,0.001),
  cx:d139_cx,cy:d139_cy,fx:d139_fx,fy:d139_fy,lx:d139_lx,ly:d139_ly,xx:d139_xx,xy:d139_xy,err:0.006,bins:d139_bins,mag:[[4.49,4.82,0.118]],dot:0.0166,ann:[[4.558,'0.898/0.159']],fill:[4.48,4.53],col:'#0000ff',lcol:'#2020ff',unit:'Ks',ttl:CR,rtl:CRR,rpad:44,ri:3,bi:2,ti:3},
 {id:'181',L:460,R:757,T:360,M:509,B:660,x:[-0.392,1.268],xt:tk_xm,xminor:0.05,ty:[1.0149,1.0584],tt:rng(1.02,1.05,0.01),tmin:0.002,by:[-1.62,20.63],bt:rng(0,20,5),ry:[-0.00108,0.01254],rt:rng(0,0.012,0.002),
  cx:d181_cx,cy:d181_cy,fx:d181_fx,fy:d181_fy,lx:d181_lx,ly:d181_ly,xx:d181_xx,xy:d181_xy,err:2.8,bins:d181_bins,mag:[[0.0,0.07,18.8]],dot:6.1,ann:[[0.022,'0.132/0.021']],col:'#0000ff',lcol:'#2020ff',unit:'Ms',ttl:CR,rtl:CRR,rpad:44,ri:3,bi:0,ti:2},
 {id:'222',L:867,R:1163,T:363,M:511,B:661,x:[2.4226,3.108],xt:tk_x222,xminor:0.02,ty:[0.5421,0.8068],tt:rng(0.55,0.80,0.05),tmin:0.01,by:[-0.0117,0.169],bt:rng(0,0.15,0.05),ry:[-0.001,0.01048],rt:rng(0,0.010,0.002),
  cx:seqX(d222_cy,2.42,0.01),cy:d222_cy,fx:d222_fx,fy:d222_fy,lx:d222_lx,ly:d222_ly,xx:d222_xx,xy:d222_xy,err:0.006,bins:d222_bins,mag:[[2.64,3.108,0.158]],dot:0.004,ann:[[2.598,'8.398/0.947']],col:'#0000ff',lcol:'#2020ff',unit:'Ks',ttl:CR,rtl:CRR,rpad:28,ri:3,bi:2,ti:2},
 {id:'291',L:54,R:356,T:711,M:863,B:1017,x:[1.62,3.503],xt:tk_x291,xminor:0.05,ty:[0.9875,1.219],tt:rng(1.00,1.20,0.05),tmin:0.01,by:[-4.5,68.06],bt:rng(0,60,20),ry:[-0.0067,0.0712],rt:rng(0,0.06,0.02),
  cx:seqX(d291_cy,1.62,0.02),cy:d291_cy,fx:d291_fx,fy:d291_fy,lx:seqX(d291_ly,1.62,0.02),ly:d291_ly,xx:d291_xx,xy:d291_xy,err:4.5,bins:d291_bins,mag:[[2.03,2.14,62.5],[3.05,3.09,62.5]],dot:7.5,ann:[[2.096,'0.416/0.037'],[2.669,'0.562/0.132']],col:'#0000ff',lcol:'#2020ff',unit:'Ms',ttl:CR,rtl:CRR,rpad:44,ri:2,bi:0,ti:2},
 {id:'398',L:460,R:757,T:715,M:866,B:1018,x:[-0.392,1.266],xt:tk_xm,xminor:0.05,ty:[0.9949,1.1696],tt:rng(1.00,1.15,0.05),tmin:0.01,by:[-3.6,40.97],bt:rng(0,40,10),ry:[-0.0031,0.0327],rt:rng(0,0.030,0.005),
  cx:seqX(d398_cy,-0.39,0.02),cy:d398_cy,fx:d398_fx,fy:d398_fy,lx:seqX(d398_ly,-0.39,0.02),ly:d398_ly,xx:d398_xx,xy:d398_xy,err:4.2,bins:d398_bins,mag:[[0.0,0.87,38.2]],dot:5,ann:[[0.035,'3.286/0.096']],col:'#0000ff',lcol:'#2020ff',unit:'Ms',ttl:CR,rtl:CRR,rpad:44,ri:3,bi:0,ti:2},
 {id:'470',L:867,R:1163,T:718,M:869,B:1018,x:[-0.428,1.302],xt:tk_xs,xl:lb_xs,xminor:0.05,ty:[4.0289,4.2107],tt:rng(4.05,4.20,0.05),tmin:0.01,by:[-0.0129,0.1435],bt:rng(0,0.14,0.02),ry:[-0.0026,0.0267],rt:rng(0,0.025,0.005),
  cx:seqX(d470_cy,0.0,0.0105),cy:d470_cy,fx:d470_fx,fy:d470_fy,lx:seqX(d470_ly,0.0,0.0105),ly:d470_ly,xx:d470_xx,xy:d470_xy,err:0.011,bins:d470_bins,mag:[[0.0,0.9,0.134]],dot:0.0055,ann:[[0.005,'28.156/0.972']],col:'#ff7f0e',lcol:'#ff8000',unit:'Ks',ttl:'3.6\u00b5m [mJy]',rtl:'3.6\u00b5m [mJy]',rpad:28,ri:3,bi:2,ti:2},
 {id:'546',L:55,R:349,T:1078,M:1227,B:1374,x:[-0.412,1.291],xt:tk_xs,xl:lb_xs,xminor:0.05,ty:[12.9364,13.0291],tt:rng(12.94,13.02,0.02),tmin:0.005,by:[-4.5,53.7],bt:rng(0,50,10),ry:[-0.00205,0.02456],rt:rng(0,0.020,0.005),
  cx:d546_cx,cy:d546_cy,fx:d546_fx,fy:d546_fy,lx:seqX(d546_ly,0.0,0.01),ly:d546_ly,xx:d546_xx,xy:d546_xy,err:4.5,bins:d546_bins,mag:[[0.51,0.57,49.3]],dot:8.8,ann:[[0.024,'0.264/0.032']],col:'#ff0000',lcol:'#ff0000',unit:'Ms',ttl:'4.5\u00b5m [mJy]',rtl:'4.5\u00b5m [mJy]',rpad:44,ri:3,bi:0,ti:2},
 {id:'573',L:457,R:759,T:1068,M:1221,B:1373,x:[1.625,3.502],xt:tk_x573,xminor:0.05,ty:[2.7771,2.8687],tt:rng(2.78,2.86,0.02),tmin:0.005,by:[-0.70,8.12],bt:rng(0,8,2),ry:[-0.0032,0.037],rt:rng(0,0.03,0.01),
  cx:d573_cx,cy:d573_cy,fx:d573_fx,fy:d573_fy,lx:seqX(d573_ly,2.03,0.02),ly:d573_ly,xx:d573_xx,xy:d573_xy,err:1.4,bins:d573_bins,mag:[[2.72,3.1,7.5]],dot:1.4,ann:[[2.105,'0.198/0.066']],fill:[2.72,3.03],col:'#ff7f0e',lcol:'#ff8000',unit:'Ms',ttl:'3.6\u00b5m [mJy]',rtl:'3.6\u00b5m [mJy]',rpad:38,ri:2,bi:0,ti:2},
 {id:'618',L:867,R:1161,T:1078,M:1227,B:1374,x:[-0.428,1.29],xt:tk_xs,xl:lb_xs,xminor:0.05,ty:[2.09646,2.1191],tt:rng(2.100,2.115,0.005),tmin:0.001,by:[-2.98,35.8],bt:rng(0,30,10),ry:[-0.0009,0.01083],rt:rng(0,0.010,0.002),
  cx:d618_cx,cy:d618_cy,fx:d618_fx,fy:d618_fy,lx:seqX(d618_ly,0.0,0.01),ly:d618_ly,xx:d618_xx,xy:d618_xy,err:4.8,bins:d618_bins,mag:[[0.68,0.82,31.5]],dot:8.4,ann:[[0.005,'0.343/0.023']],col:'#ff0000',lcol:'#ff0000',unit:'Ms',ttl:'4.5\u00b5m [mJy]',rtl:'4.5\u00b5m [mJy]',rpad:30,ri:3,bi:0,ti:3}
];
panels.forEach(c=>{c.tl=labs(c.tt,c.ti);c.bl=labs(c.bt,c.bi);c.rl=labs(c.rt,c.ri);drawPanel(c);});
</script>
</body></html>
